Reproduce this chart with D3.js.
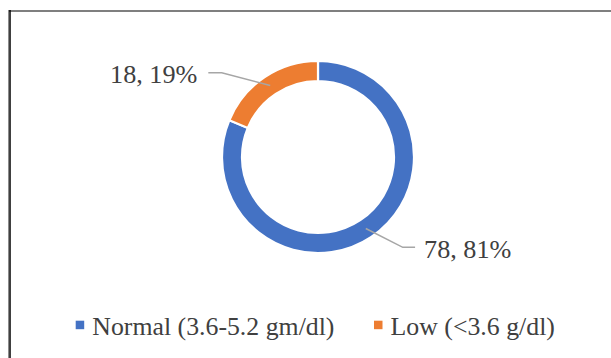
<!DOCTYPE html>
<html>
<head>
<meta charset="utf-8">
<script src="https://cdn.jsdelivr.net/npm/d3@7"></script>
<style>
  html, body { margin: 0; padding: 0; background: #fff; }
  svg { display: block; }
</style>
</head>
<body>
<svg id="chart" width="611" height="358"></svg>
<script>
// Serum albumin groups
const categories = ["Normal (3.6-5.2 gm/dl)", "Low (<3.6 g/dl)"];
const counts = [78, 18];
const percents = [81, 19];
const colors = ["#4472C4", "#ED7D31"];

const W = 611, H = 358;
const svg = d3.select("#chart");
const textColor = "#404040";
const serif = "'Liberation Serif', 'Times New Roman', serif";

// frame of the chart area
svg.append("line").attr("x1", 8.5).attr("x2", 8.5).attr("y1", 10).attr("y2", H)
  .attr("stroke", "#8c8c8c").attr("stroke-width", 1);
svg.append("line").attr("x1", 10).attr("x2", 10).attr("y1", 10).attr("y2", H)
  .attr("stroke", "#000").attr("stroke-width", 1.5);
svg.append("line").attr("x1", 9).attr("x2", W).attr("y1", 11).attr("y2", 11)
  .attr("stroke", "#000").attr("stroke-width", 1.2);

// doughnut
const cx = 318, cy = 157;
const outerR = 96, innerR = 76;
const data = categories.map((c, i) => ({ name: c, count: counts[i], pct: percents[i], color: colors[i] }));

const pie = d3.pie().sort(null).value(d => d.count).startAngle(0).endAngle(2 * Math.PI);
const arc = d3.arc().innerRadius(innerR).outerRadius(outerR);
const arcs = pie(data);

const g = svg.append("g").attr("transform", `translate(${cx},${cy})`);
g.selectAll("path.slice").data(arcs).join("path")
  .attr("class", "slice")
  .attr("d", arc)
  .attr("fill", d => d.data.color)
  .attr("stroke", "#fff")
  .attr("stroke-width", 2.2);

// data labels with leader lines: elbow offset from the slice centroid, then a short horizontal run
const labelLayout = [
  { elbow: [37, 18.8], run: 12.3, gap: 9, side: 1 },
  { elbow: [-48.5, -12.8], run: 13.4, gap: 11, side: -1 }
];

arcs.forEach((a, i) => {
  const [px, py] = arc.centroid(a);
  const L = labelLayout[i];
  const ex = px + L.elbow[0], ey = py + L.elbow[1];
  const tx = ex + L.side * L.run;
  g.append("polyline")
    .attr("points", [[px, py], [ex, ey], [tx, ey]].map(p => p.join(",")).join(" "))
    .attr("fill", "none")
    .attr("stroke", "#a6a6a6")
    .attr("stroke-width", 1.5);
  g.append("text")
    .attr("x", tx + L.side * L.gap)
    .attr("y", ey + 10.5)
    .attr("text-anchor", L.side > 0 ? "start" : "end")
    .attr("font-family", serif)
    .attr("font-size", 26.2)
    .attr("fill", textColor)
    .text(`${a.data.count}, ${a.data.pct}%`);
});

// legend
const legendX = [75.7, 374];
const legend = svg.append("g");
data.forEach((d, i) => {
  legend.append("rect")
    .attr("x", legendX[i]).attr("y", 320.7)
    .attr("width", 8.5).attr("height", 8.5)
    .attr("fill", d.color);
  legend.append("text")
    .attr("x", legendX[i] + 16.6).attr("y", 334.5)
    .attr("font-family", serif)
    .attr("font-size", 25.8)
    .attr("fill", textColor)
    .text(d.name);
});
</script>
</body>
</html>
